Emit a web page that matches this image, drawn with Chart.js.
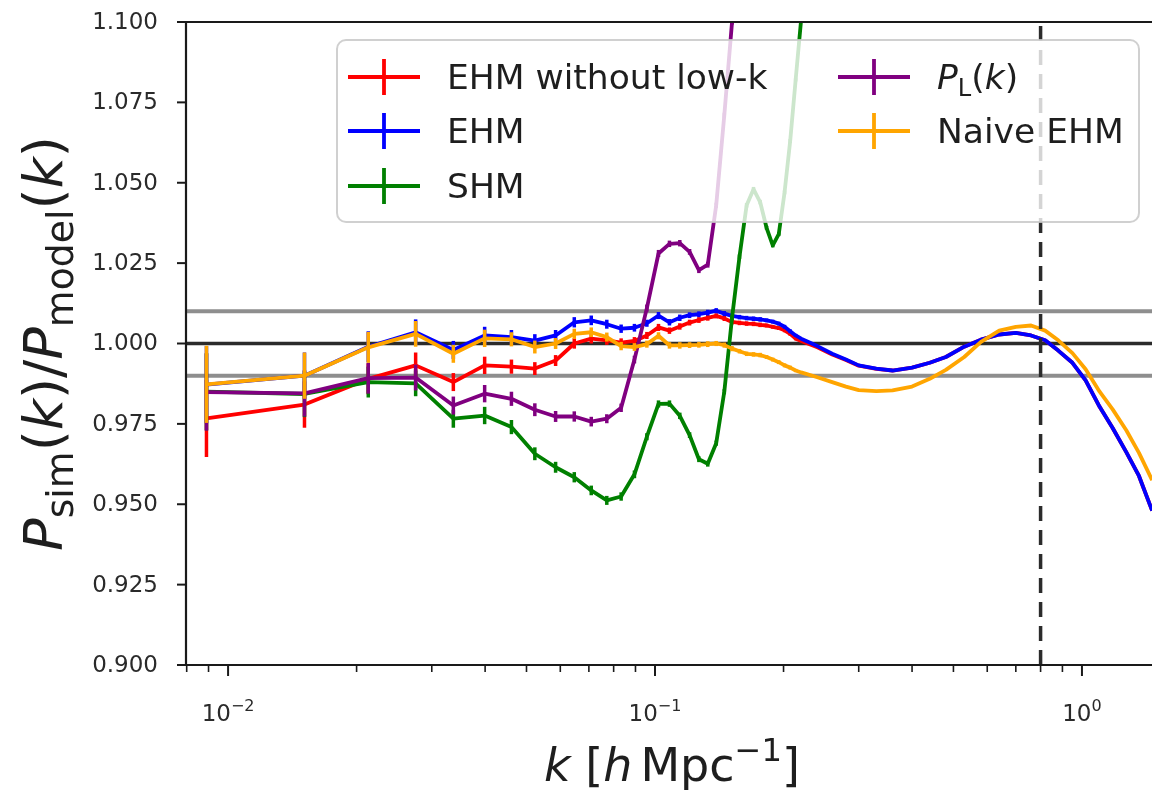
<!DOCTYPE html>
<html>
<head>
<meta charset="utf-8">
<script src="https://cdn.jsdelivr.net/npm/chart.js@4.4.1/dist/chart.umd.min.js"></script>
<style>
html,body{margin:0;padding:0;background:#ffffff;}
#wrap{width:1152px;height:790px;position:relative;}
</style>
</head>
<body>
<div id="wrap"><canvas id="c" width="1152" height="790"></canvas></div>
<script>
// ---------------- data ----------------
const kBins = [0.0089, 0.0151, 0.0213, 0.0275, 0.0337, 0.0399, 0.0461, 0.0523, 0.0585, 0.0647,
  0.0709, 0.0771, 0.0833, 0.0895, 0.0957, 0.1019, 0.1081, 0.1143, 0.1205, 0.1267,
  0.1329, 0.1391, 0.1453, 0.1515, 0.1577, 0.1639, 0.1701, 0.1763, 0.1825, 0.1887,
  0.1949, 0.2011, 0.2073, 0.2135, 0.22, 0.24, 0.26, 0.28, 0.30, 0.33,
  0.36, 0.40, 0.44, 0.48, 0.53, 0.58, 0.64, 0.70, 0.76, 0.82,
  0.88, 0.95, 1.02, 1.10, 1.18, 1.27, 1.36, 1.46];

const ratioEHMnoLowK = [0.9767, 0.9810, 0.9890, 0.9932, 0.9880, 0.9932, 0.9928, 0.9922, 0.9947, 1.0000,
  1.0015, 1.0010, 1.0003, 1.0008, 1.0025, 1.0050, 1.0040, 1.0053, 1.0065, 1.0073,
  1.0080, 1.0086, 1.0078, 1.0067, 1.0064, 1.0062, 1.0061, 1.0058, 1.0056, 1.0052,
  1.0048, 1.0041, 1.0030, 1.0015, 1.0008, 0.9988, 0.9966, 0.9949, 0.9931, 0.9921,
  0.9916, 0.9925, 0.9940, 0.9958, 0.9990, 1.0012, 1.0028, 1.0033, 1.0025, 1.0010,
  0.9978, 0.9940, 0.9885, 0.9803, 0.9737, 0.9662, 0.9588, 0.9480];

const ratioEHM = [0.9872, 0.9900, 0.9990, 1.0035, 0.9980, 1.0025, 1.0020, 1.0009, 1.0025, 1.0066,
  1.0072, 1.0060, 1.0046, 1.0049, 1.0063, 1.0087, 1.0066, 1.0080, 1.0088, 1.0091,
  1.0096, 1.0102, 1.0093, 1.0086, 1.0082, 1.0079, 1.0077, 1.0075, 1.0072, 1.0068,
  1.0062, 1.0052, 1.0038, 1.0025, 1.0015, 0.9992, 0.9968, 0.9950, 0.9932, 0.9922,
  0.9916, 0.9925, 0.9940, 0.9958, 0.9990, 1.0012, 1.0028, 1.0033, 1.0025, 1.0010,
  0.9978, 0.9940, 0.9885, 0.9803, 0.9737, 0.9662, 0.9588, 0.9480];

const ratioSHM = [0.9850, 0.9843, 0.9880, 0.9876, 0.9766, 0.9776, 0.9740, 0.9657, 0.9615, 0.9584,
  0.9543, 0.9512, 0.9524, 0.9593, 0.9710, 0.9812, 0.9813, 0.9775, 0.9715, 0.9640,
  0.9626, 0.9690, 0.9850, 1.0080, 1.0270, 1.0430, 1.0480, 1.0440, 1.0360, 1.0305,
  1.0340, 1.0470, 1.0630, 1.0820, 1.1010, 1.1600, null, null, null, null,
  null, null, null, null, null, null, null, null, null, null,
  null, null, null, null, null, null, null, null];

const ratioLinear = [0.9849, 0.9845, 0.9892, 0.9894, 0.9807, 0.9844, 0.9828, 0.9794, 0.9773, 0.9773,
  0.9757, 0.9766, 0.9800, 0.9950, 1.0110, 1.0280, 1.0310, 1.0312, 1.0285, 1.0228,
  1.0245, 1.0430, 1.0710, 1.1000, 1.1300, null, null, null, null, null,
  null, null, null, null, null, null, null, null, null, null,
  null, null, null, null, null, null, null, null, null, null,
  null, null, null, null, null, null, null, null];

const ratioNaiveEHM = [0.9873, 0.9900, 0.9988, 1.0030, 0.9968, 1.0016, 1.0013, 0.9989, 1.0000, 1.0030,
  1.0035, 1.0020, 0.9992, 0.9989, 0.9998, 1.0024, 0.9994, 0.9994, 0.9995, 0.9996,
  0.9998, 1.0000, 0.9995, 0.9984, 0.9976, 0.9968, 0.9966, 0.9964, 0.9958, 0.9950,
  0.9942, 0.9932, 0.9925, 0.9916, 0.9910, 0.9895, 0.9880, 0.9866, 0.9855, 0.9852,
  0.9854, 0.9866, 0.9890, 0.9918, 0.9958, 1.0005, 1.0040, 1.0052, 1.0056, 1.0040,
  1.0010, 0.9970, 0.9920, 0.9850, 0.9795, 0.9730, 0.9660, 0.9575];

const ratioErrors = [0.0120, 0.0072, 0.0048, 0.0040, 0.0028, 0.0027, 0.0022, 0.0020, 0.0017, 0.0016,
  0.0015, 0.0014, 0.0013, 0.0012, 0.0011, 0.0011, 0.0010, 0.0010, 0.0009, 0.0009,
  0.0009, 0.0008, 0.0008, 0.0008, 0.0007, 0.0007, 0.0007, 0.0007, 0.0006, 0.0006,
  0.0006, 0.0006, 0.0006, 0.0005, 0, 0, 0, 0, 0, 0,
  0, 0, 0, 0, 0, 0, 0, 0, 0, 0,
  0, 0, 0, 0, 0, 0, 0, 0];

const seriesLabels = ['EHM without low-k', 'EHM', 'SHM', 'P_L(k)', 'Naive EHM'];
const yTickValues = [0.900, 0.925, 0.950, 0.975, 1.000, 1.025, 1.050, 1.075, 1.100];
const xMajorTicks = [0.01, 0.1, 1];
const xMajorExponents = ['\u22122', '\u22121', '0'];
const xMinorTicks = [0.008, 0.009, 0.02, 0.03, 0.04, 0.05, 0.06, 0.07, 0.08, 0.09,
  0.2, 0.3, 0.4, 0.5, 0.6, 0.7, 0.8, 0.9];
const refLevels = [1.01, 1.00, 0.99];
const kCut = 0.8;
const xRange = [0.00797, 1.459];
const yRange = [0.9, 1.1];

// ---------------- styles ----------------
const FONT = "'DejaVu Sans', 'Liberation Sans', sans-serif";
const TXT = '#1e1e1e';
const LW = 3.8;
const seriesColors = ['#ff0000', '#0000ff', '#008000', '#800080', '#ffa500'];
const seriesOrder = [6, 5, 4, 3, 2];
const seriesValues = [ratioEHMnoLowK, ratioEHM, ratioSHM, ratioLinear, ratioNaiveEHM];

function toPoints(vals) {
  const out = [];
  kBins.forEach((k, i) => { if (vals[i] !== null) out.push({x: k, y: vals[i], e: ratioErrors[i]}); });
  return out;
}

const datasets = [];
refLevels.forEach((lv) => {
  datasets.push({
    label: 'ref ' + lv,
    data: [{x: xRange[0], y: lv}, {x: xRange[1], y: lv}],
    borderColor: lv === 1 ? '#2b2b2b' : '#8e8e8e',
    borderWidth: lv === 1 ? 3.5 : 4,
    pointRadius: 0, order: 10
  });
});
seriesValues.forEach((vals, i) => {
  datasets.push({
    label: seriesLabels[i],
    data: toPoints(vals),
    borderColor: seriesColors[i],
    backgroundColor: seriesColors[i],
    borderWidth: LW,
    borderJoinStyle: 'round',
    pointRadius: 0,
    tension: 0,
    order: seriesOrder[i],
    hasErr: true
  });
});
datasets.push({
  label: 'k cut',
  data: [{x: kCut, y: yRange[0]}, {x: kCut, y: yRange[1]}],
  borderColor: '#2b2b2b', borderWidth: 3.5, borderDash: [15, 9],
  pointRadius: 0, order: 1
});

// ---------------- rich-text helper ----------------
function fontStr(p) {
  return (p.it ? 'italic ' : '') + p.s + 'px ' + FONT;
}
function drawRich(ctx, parts, x, y, align) {
  let w = 0;
  parts.forEach(p => { ctx.font = fontStr(p); p.w = ctx.measureText(p.t).width + (p.sp || 0); w += p.w; });
  let cx = align === 'center' ? x - w / 2 : (align === 'right' ? x - w : x);
  ctx.textAlign = 'left';
  ctx.textBaseline = 'alphabetic';
  parts.forEach(p => { ctx.font = fontStr(p); ctx.fillText(p.t, cx, y + (p.dy || 0)); cx += p.w; });
}

// ---------------- plugin ----------------
const decor = {
  id: 'decor',
  afterDatasetDraw(chart, args) {
    const ds = chart.data.datasets[args.index];
    if (!ds.hasErr) return;
    const {ctx, chartArea: a, scales: {x, y}} = chart;
    ctx.save();
    ctx.beginPath();
    ctx.rect(a.left, a.top, a.right - a.left, a.bottom - a.top);
    ctx.clip();
    ctx.strokeStyle = ds.borderColor;
    ctx.lineWidth = 3.5;
    ctx.lineCap = 'butt';
    ds.data.forEach(pt => {
      if (!pt.e) return;
      const px = x.getPixelForValue(pt.x);
      ctx.beginPath();
      ctx.moveTo(px, y.getPixelForValue(pt.y - pt.e));
      ctx.lineTo(px, y.getPixelForValue(pt.y + pt.e));
      ctx.stroke();
    });
    ctx.restore();
  },
  afterDraw(chart) {
    const {ctx, chartArea: a, scales: {x, y}} = chart;
    ctx.save();
    // legend box
    const L = {x: 337, y: 40, w: 802, h: 182, r: 9};
    ctx.beginPath();
    ctx.roundRect(L.x, L.y, L.w, L.h, L.r);
    ctx.fillStyle = 'rgba(255,255,255,0.8)';
    ctx.fill();
    ctx.strokeStyle = 'rgba(200,200,200,0.85)';
    ctx.lineWidth = 2;
    ctx.stroke();
    const S = 34.5;
    const entries = [
      {i: 0, hx: 348, cy: 77, parts: [{t: 'EHM without low-k', s: S}]},
      {i: 1, hx: 348, cy: 131, parts: [{t: 'EHM', s: S}]},
      {i: 2, hx: 348, cy: 186, parts: [{t: 'SHM', s: S}]},
      {i: 3, hx: 838, cy: 77, parts: [{t: 'P', s: S, it: true}, {t: 'L', s: S * 0.7, dy: 7}, {t: '(', s: S}, {t: 'k', s: S, it: true}, {t: ')', s: S}]},
      {i: 4, hx: 838, cy: 131, parts: [{t: 'Naive EHM', s: S}]}
    ];
    entries.forEach(en => {
      ctx.strokeStyle = seriesColors[en.i];
      ctx.lineWidth = LW;
      ctx.beginPath();
      ctx.moveTo(en.hx, en.cy); ctx.lineTo(en.hx + 72, en.cy);
      ctx.moveTo(en.hx + 36, en.cy - 18); ctx.lineTo(en.hx + 36, en.cy + 18);
      ctx.stroke();
      ctx.fillStyle = TXT;
      drawRich(ctx, en.parts, en.hx + 99, en.cy + 12, 'left');
    });

    // spines
    ctx.strokeStyle = '#1a1a1a';
    ctx.lineWidth = 2.2;
    ctx.beginPath();
    ctx.moveTo(a.left, a.top); ctx.lineTo(a.right, a.top);
    ctx.moveTo(a.left, a.top); ctx.lineTo(a.left, a.bottom);
    ctx.moveTo(a.left - 1, a.bottom); ctx.lineTo(a.right, a.bottom);
    ctx.stroke();

    // y ticks + labels
    ctx.lineWidth = 2;
    ctx.fillStyle = '#2a2a2a';
    ctx.font = '23px ' + FONT;
    ctx.textAlign = 'right';
    ctx.textBaseline = 'middle';
    yTickValues.forEach(v => {
      const py = y.getPixelForValue(v);
      ctx.beginPath(); ctx.moveTo(a.left - 9, py); ctx.lineTo(a.left, py); ctx.stroke();
      ctx.fillText(v.toFixed(3), a.left - 28, py + 1);
    });

    // x ticks
    xMinorTicks.forEach(v => {
      if (v < xRange[0] || v > xRange[1]) return;
      const px = x.getPixelForValue(v);
      ctx.lineWidth = 1.6;
      ctx.beginPath(); ctx.moveTo(px, a.bottom); ctx.lineTo(px, a.bottom + 7); ctx.stroke();
    });
    xMajorTicks.forEach((v, i) => {
      const px = x.getPixelForValue(v);
      ctx.lineWidth = 2;
      ctx.beginPath(); ctx.moveTo(px, a.bottom); ctx.lineTo(px, a.bottom + 11); ctx.stroke();
      drawRich(ctx, [{t: '10', s: 23}, {t: xMajorExponents[i], s: 16, dy: -10}], px, 721, 'center');
    });

    // x label
    ctx.fillStyle = TXT;
    const XS = 46;
    drawRich(ctx, [
      {t: 'k', s: XS, it: true}, {t: ' [', s: XS}, {t: 'h', s: XS, it: true, sp: 8},
      {t: 'Mpc', s: XS}, {t: '\u22121', s: XS * 0.7, dy: -20}, {t: ']', s: XS}
    ], (a.left + a.right) / 2 + 3, 781, 'center');

    // y label (rotated)
    const YS = 54;
    ctx.save();
    ctx.translate(62, (a.top + a.bottom) / 2);
    ctx.rotate(-Math.PI / 2);
    drawRich(ctx, [
      {t: 'P', s: YS, it: true}, {t: 'sim', s: YS * 0.7, dy: 11},
      {t: '(', s: YS}, {t: 'k', s: YS, it: true}, {t: ')/', s: YS},
      {t: 'P', s: YS, it: true}, {t: 'model', s: YS * 0.7, dy: 11},
      {t: '(', s: YS}, {t: 'k', s: YS, it: true}, {t: ')', s: YS}
    ], 0, 0, 'center');
    ctx.restore();
    ctx.restore();
  }
};

new Chart(document.getElementById('c').getContext('2d'), {
  type: 'line',
  data: {datasets},
  options: {
    responsive: false,
    animation: false,
    devicePixelRatio: 1,
    layout: {padding: {left: 186, top: 22, right: 0, bottom: 125}},
    scales: {
      x: {type: 'logarithmic', min: xRange[0], max: xRange[1], display: false},
      y: {type: 'linear', min: yRange[0], max: yRange[1], display: false}
    },
    plugins: {legend: {display: false}, tooltip: {enabled: false}},
    elements: {point: {radius: 0}, line: {tension: 0}}
  },
  plugins: [decor]
});
</script>
</body>
</html>
